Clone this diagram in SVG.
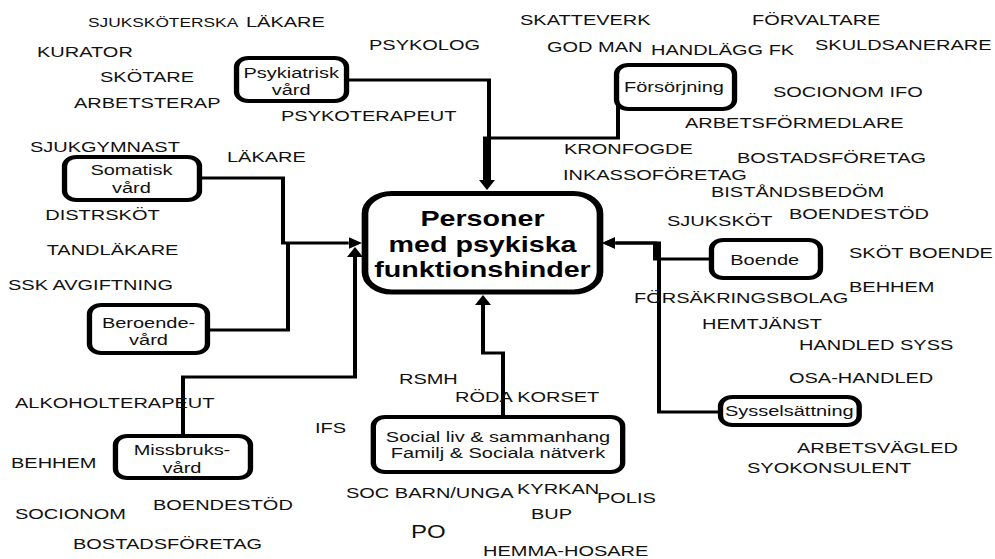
<svg xmlns="http://www.w3.org/2000/svg" width="995" height="559" viewBox="0 0 995 559">
<style>
.lbl{font-family:"Liberation Sans",Arial,sans-serif;font-size:15px;fill:#111}
.nt{font-family:"Liberation Sans",Arial,sans-serif;font-size:15px;fill:#111;text-anchor:middle}
.ct{font-family:"Liberation Sans",Arial,sans-serif;font-size:21.5px;font-weight:bold;fill:#000;text-anchor:middle}
.box{fill:#fff;stroke:#000;stroke-width:4}
.cbox{fill:#fff;stroke:#000;stroke-width:5}
.con{fill:none;stroke:#000;stroke-width:3}
</style>
<defs>
<marker id="ah" viewBox="0 0 10 12" refX="0" refY="6" markerWidth="10" markerHeight="12" markerUnits="userSpaceOnUse" orient="auto">
<path d="M0,0 L10,6 L0,12 z" fill="#000"/>
</marker>
</defs>
<rect width="995" height="559" fill="#fff"/>
<g transform="scale(1.33333,1)">
<g id="connectors">
<path class="con" d="M259.9,80 H366.75 V180"/>
<path class="con" d="M463.5,88 V138 H363.75 V180"/>
<path class="con" d="M365.25,178 V180" marker-end="url(#ah)"/>
<path class="con" d="M149.6,178 H212.25 V243 H261.5" marker-end="url(#ah)"/>
<path class="con" d="M155.6,330 H216 V243"/>
<path class="con" d="M137.25,436 V377 H266.25 V257" marker-end="url(#ah)"/>
<path class="con" d="M377.25,417 V353 H362.25 V305" marker-end="url(#ah)"/>
<path class="con" d="M533.6,259 H491.25 V243 H461.5" marker-end="url(#ah)"/>
<path class="con" d="M540.4,412 H494.25 V243 H461.5" marker-end="url(#ah)"/>
</g>
<g id="center">
<rect class="cbox" x="273.75" y="193.5" width="176.25" height="98.5" rx="20" ry="20"/>
<text class="ct" x="361.9" y="226">Personer</text>
<text class="ct" x="361.9" y="252">med psykiska</text>
<text class="ct" x="361.9" y="277">funktionshinder</text>
</g>
<g id="psykiatrisk">
<rect class="box" x="177.4" y="58" width="82.5" height="43" rx="9" ry="9"/>
<text class="nt" x="218.4" y="78">Psykiatrisk</text>
<text class="nt" x="218.4" y="95">vård</text>
</g>
<g id="forsorjning">
<rect class="box" x="462.4" y="65" width="88.5" height="44" rx="9" ry="9"/>
<text class="nt" x="505.5" y="92">Försörjning</text>
</g>
<g id="somatisk">
<rect class="box" x="48.4" y="157" width="101.2" height="43" rx="9" ry="9"/>
<text class="nt" x="98.6" y="175">Somatisk</text>
<text class="nt" x="98.6" y="193">vård</text>
</g>
<g id="beroende">
<rect class="box" x="67.1" y="305" width="88.5" height="48" rx="9" ry="9"/>
<text class="nt" x="111.4" y="328">Beroende-</text>
<text class="nt" x="111.4" y="345">vård</text>
</g>
<g id="missbruk">
<rect class="box" x="86.6" y="436" width="101.25" height="42" rx="9" ry="9"/>
<text class="nt" x="136.5" y="455">Missbruks-</text>
<text class="nt" x="136.5" y="473">vård</text>
</g>
<g id="social">
<rect class="box" x="280" y="417" width="187" height="55" rx="9" ry="9"/>
<text class="nt" x="373.5" y="442">Social liv &amp; sammanhang</text>
<text class="nt" x="373.5" y="458">Familj &amp; Sociala nätverk</text>
</g>
<g id="boende">
<rect class="box" x="533.6" y="240" width="81.75" height="38" rx="9" ry="9"/>
<text class="nt" x="573.5" y="265">Boende</text>
</g>
<g id="sysselsattning">
<rect class="box" x="540.4" y="397" width="104" height="28" rx="9" ry="9"/>
<text class="nt" x="592" y="416">Sysselsättning</text>
</g>
<g id="labels">
<text class="lbl" x="66" y="27" style="font-size:13px">SJUKSKÖTERSKA</text>
<text class="lbl" x="184.5" y="27">LÄKARE</text>
<text class="lbl" x="27.75" y="57">KURATOR</text>
<text class="lbl" x="276.75" y="50">PSYKOLOG</text>
<text class="lbl" x="75" y="82">SKÖTARE</text>
<text class="lbl" x="55.5" y="108">ARBETSTERAP</text>
<text class="lbl" x="210.75" y="121">PSYKOTERAPEUT</text>
<text class="lbl" x="22.5" y="152">SJUKGYMNAST</text>
<text class="lbl" x="170.25" y="162">LÄKARE</text>
<text class="lbl" x="34" y="220">DISTRSKÖT</text>
<text class="lbl" x="35" y="255">TANDLÄKARE</text>
<text class="lbl" x="6" y="290">SSK AVGIFTNING</text>
<text class="lbl" x="11.25" y="408">ALKOHOLTERAPEUT</text>
<text class="lbl" x="236.25" y="433">IFS</text>
<text class="lbl" x="8.25" y="468">BEHHEM</text>
<text class="lbl" x="11.25" y="519">SOCIONOM</text>
<text class="lbl" x="114.75" y="510">BOENDESTÖD</text>
<text class="lbl" x="54.75" y="549">BOSTADSFÖRETAG</text>
<text class="lbl" x="259.5" y="498">SOC BARN/UNGA</text>
<text class="lbl" x="308.25" y="538" style="font-size:18px">PO</text>
<text class="lbl" x="387.75" y="494">KYRKAN</text>
<text class="lbl" x="398.25" y="519">BUP</text>
<text class="lbl" x="447.75" y="503">POLIS</text>
<text class="lbl" x="362.25" y="556">HEMMA-HOSARE</text>
<text class="lbl" x="299.25" y="384">RSMH</text>
<text class="lbl" x="341.25" y="402">RÖDA KORSET</text>
<text class="lbl" x="390" y="25">SKATTEVERK</text>
<text class="lbl" x="564" y="25">FÖRVALTARE</text>
<text class="lbl" x="410.25" y="52">GOD MAN</text>
<text class="lbl" x="488.25" y="55">HANDLÄGG FK</text>
<text class="lbl" x="611.25" y="50">SKULDSANERARE</text>
<text class="lbl" x="579.75" y="97">SOCIONOM IFO</text>
<text class="lbl" x="513.75" y="128">ARBETSFÖRMEDLARE</text>
<text class="lbl" x="423" y="154">KRONFOGDE</text>
<text class="lbl" x="552.75" y="163">BOSTADSFÖRETAG</text>
<text class="lbl" x="422.25" y="180">INKASSOFÖRETAG</text>
<text class="lbl" x="533.25" y="197">BISTÅNDSBEDÖM</text>
<text class="lbl" x="591.75" y="219">BOENDESTÖD</text>
<text class="lbl" x="500.25" y="226">SJUKSKÖT</text>
<text class="lbl" x="636.75" y="258">SKÖT BOENDE</text>
<text class="lbl" x="636.75" y="292">BEHHEM</text>
<text class="lbl" x="475.5" y="303">FÖRSÄKRINGSBOLAG</text>
<text class="lbl" x="526.5" y="329">HEMTJÄNST</text>
<text class="lbl" x="599.25" y="350">HANDLED SYSS</text>
<text class="lbl" x="591.75" y="383">OSA-HANDLED</text>
<text class="lbl" x="597.75" y="453">ARBETSVÄGLED</text>
<text class="lbl" x="560.25" y="473">SYOKONSULENT</text>
</g>
</g>
</svg>
